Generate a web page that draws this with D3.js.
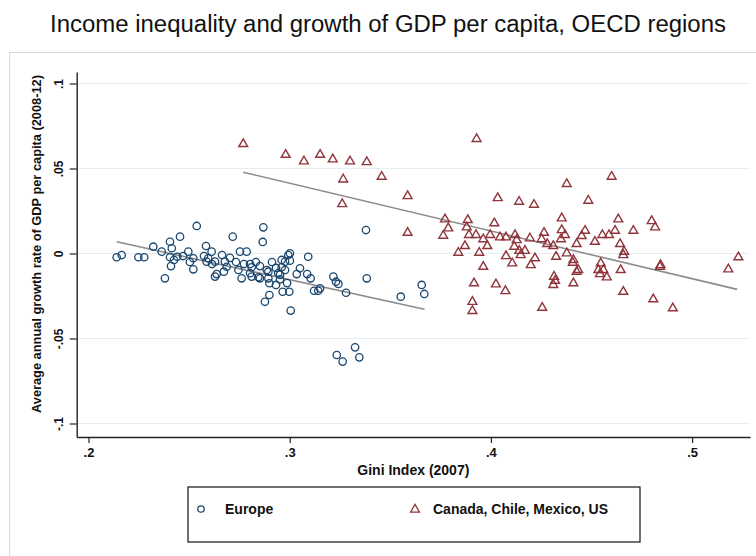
<!DOCTYPE html>
<html>
<head>
<meta charset="utf-8">
<script src="https://cdn.jsdelivr.net/npm/d3@7"></script>
<style>
  html, body { margin: 0; padding: 0; background: #fff; }
  svg { display: block; font-family: "Liberation Sans", Arial, sans-serif; }
</style>
</head>
<body>
<svg id="chart" width="756" height="556"></svg>
<script>
// ---------------- DATA ----------------
const title = "Income inequality and growth of GDP per capita, OECD regions";
const xTitle = "Gini Index (2007)";
const yTitle = "Average annual growth rate of GDP per capita (2008-12)";
const seriesNames = ["Europe", "Canada, Chile, Mexico, US"];

const xTicks = [0.2, 0.3, 0.4, 0.5];
const xTickLabels = [".2", ".3", ".4", ".5"];
const yTicks = [-0.1, -0.05, 0, 0.05, 0.1];
const yTickLabels = ["-.1", "-.05", "0", ".05", ".1"];

// Europe regions: [gini, growth]
const europe = [
  [0.2140,-0.0022],[0.2165,-0.0009],[0.2248,-0.0022],[0.2277,-0.0022],[0.2322,0.0040],
  [0.2380,-0.0146],[0.2364,0.0011],[0.2405,0.0069],[0.2414,0.0031],[0.2455,0.0099],
  [0.2405,-0.0022],[0.2425,-0.0038],[0.2410,-0.0074],[0.2441,-0.0019],[0.2538,0.0162],
  [0.2496,0.0011],[0.2521,-0.0028],[0.2521,-0.0093],[0.2584,0.0044],[0.2612,0.0011],
  [0.2595,-0.0028],[0.2629,-0.0048],[0.2587,-0.0048],[0.2637,-0.0121],[0.2629,-0.0136],
  [0.2678,-0.0048],[0.2687,-0.0078],[0.2673,-0.0107],[0.2717,0.0099],[0.2753,0.0011],
  [0.2786,0.0011],[0.2745,-0.0097],[0.2761,-0.0146],[0.2811,-0.0081],[0.2803,-0.0116],
  [0.2869,0.0154],[0.2866,0.0068],[0.2844,-0.0140],[0.2886,-0.0097],[0.2894,-0.0146],
  [0.2899,-0.0244],[0.2877,-0.0284],[0.2965,-0.0225],[0.2998,-0.0225],[0.3005,-0.0336],
  [0.2952,-0.0126],[0.2960,-0.0081],[0.2993,-0.0009],[0.3001,-0.0042],[0.3035,-0.0121],
  [0.2977,-0.0048],[0.2470,-0.0015],[0.2504,-0.0050],[0.2574,-0.0015],[0.2614,-0.0062],
  [0.2703,-0.0026],[0.2733,-0.0050],[0.2832,-0.0050],[0.2852,-0.0074],[0.2912,-0.0050],
  [0.2932,-0.0085],[0.2773,-0.0062],[0.2664,-0.0009],[0.2960,-0.0038],[0.3001,0.0001],
  [0.2943,-0.0116],[0.2952,-0.0152],[0.3092,-0.0019],[0.3087,-0.0121],[0.3104,-0.0146],
  [0.3121,-0.0219],[0.3142,-0.0219],[0.3151,-0.0205],[0.3217,-0.0136],[0.3230,-0.0166],
  [0.3242,-0.0179],[0.3280,-0.0231],[0.3383,-0.0146],[0.3379,0.0138],[0.3552,-0.0254],
  [0.3656,-0.0185],[0.3669,-0.0238],[0.3234,-0.0597],[0.3263,-0.0636],[0.3325,-0.0552],
  [0.3346,-0.0611],[0.2803,-0.0062],[0.2811,-0.0136],[0.2852,-0.0146],[0.2894,-0.0107],
  [0.2899,-0.0175],[0.2977,-0.0097],[0.3051,-0.0087],[0.2932,-0.0185],[0.2987,-0.0174]
];

// Canada, Chile, Mexico, US regions: [gini, growth]
const americas = [
  [0.2769,0.0644],[0.2980,0.0581],[0.3071,0.0542],[0.3151,0.0581],[0.3214,0.0554],
  [0.3300,0.0542],[0.3383,0.0538],[0.3266,0.0436],[0.3457,0.0452],[0.3261,0.0291],
  [0.3586,0.0338],[0.3586,0.0122],[0.3929,0.0674],[0.4377,0.0409],[0.4034,0.0326],
  [0.4140,0.0305],[0.4214,0.0287],[0.4352,0.0207],[0.3772,0.0201],[0.3788,0.0148],
  [0.3763,0.0105],[0.3885,0.0197],[0.3880,0.0154],[0.3891,0.0109],[0.3926,0.0109],
  [0.4017,0.0178],[0.3996,0.0109],[0.3962,0.0084],[0.4045,0.0095],[0.4075,0.0095],
  [0.4120,0.0109],[0.4128,0.0079],[0.3871,0.0044],[0.3838,0.0005],[0.3982,0.0044],
  [0.3942,0.0005],[0.4116,0.0040],[0.4141,0.0016],[0.4169,0.0016],[0.4075,-0.0015],
  [0.4148,-0.0009],[0.4106,-0.0058],[0.4219,-0.0028],[0.4198,-0.0068],[0.3962,-0.0078],
  [0.3916,-0.0175],[0.4025,-0.0181],[0.4072,-0.0221],[0.3908,-0.0284],[0.3908,-0.0338],
  [0.4255,-0.0319],[0.4194,0.0089],[0.4264,0.0122],[0.4252,0.0084],[0.4280,0.0056],
  [0.4310,0.0044],[0.4352,0.0138],[0.4368,0.0109],[0.4348,0.0084],[0.4324,-0.0019],
  [0.4377,0.0001],[0.4407,-0.0054],[0.4426,0.0056],[0.4410,-0.0175],[0.4314,-0.0136],
  [0.4319,-0.0160],[0.4310,-0.0185],[0.4426,-0.0107],[0.4600,0.0452],[0.4484,0.0311],
  [0.4633,0.0201],[0.4799,0.0191],[0.4816,0.0154],[0.4708,0.0134],[0.4468,0.0134],
  [0.4451,0.0103],[0.4517,0.0069],[0.4554,0.0109],[0.4587,0.0109],[0.4617,0.0134],
  [0.4642,0.0056],[0.4662,0.0011],[0.4658,-0.0009],[0.4843,-0.0068],[0.4840,-0.0078],
  [0.5230,-0.0022],[0.5180,-0.0093],[0.4410,-0.0038],[0.4434,-0.0097],[0.4546,-0.0058],
  [0.4534,-0.0097],[0.4559,-0.0097],[0.4542,-0.0121],[0.4576,-0.0140],[0.4645,-0.0097],
  [0.4658,-0.0225],[0.4807,-0.0269],[0.4904,-0.0322]
];

// Linear fit lines (endpoints): [gini, fitted growth]
const europeFit = [[0.2140, 0.0069], [0.3670, -0.0328]];
const americasFit = [[0.2769, 0.0478], [0.5224, -0.0211]];

// ---------------- LAYOUT ----------------
const svg = d3.select("#chart");
const plot = { left: 76.7, right: 750, top: 72, bottom: 437 };
const xDomain = [0.19414, 0.52877];
const yDomain = [-0.10794, 0.10676];

const x = d3.scaleLinear().domain(xDomain).range([plot.left, plot.right]);
const y = d3.scaleLinear().domain(yDomain).range([plot.bottom, plot.top]);

const colEurope = "#1a476f";
const colAmericas = "#90353b";
const axisColor = "#222";
const fontFam = '"Liberation Sans", Arial, sans-serif';

// outer frame
svg.append("rect")
  .attr("x", 9.5).attr("y", 52.5).attr("width", 800).attr("height", 600)
  .attr("fill", "none").attr("stroke", "#d9d9d9").attr("stroke-width", 1);

// title
svg.append("text")
  .attr("x", 388).attr("y", 32)
  .attr("text-anchor", "middle")
  .attr("font-size", 23).attr("fill", "#111")
  .attr("textLength", 676).attr("lengthAdjust", "spacingAndGlyphs")
  .text(title);

// gridlines
svg.append("g").selectAll("line").data(yTicks).join("line")
  .attr("x1", plot.left).attr("x2", plot.right)
  .attr("y1", d => y(d)).attr("y2", d => y(d))
  .attr("stroke", "#e4eef1").attr("stroke-width", 1.2);

// fit lines
const line = d3.line().x(d => x(d[0])).y(d => y(d[1]));
[europeFit, americasFit].forEach(f => {
  svg.append("path").datum(f).attr("d", line)
    .attr("fill", "none").attr("stroke", "#8c8c8c").attr("stroke-width", 1.6);
});

// points
svg.append("g").selectAll("circle").data(europe).join("circle")
  .attr("cx", d => x(d[0])).attr("cy", d => y(d[1])).attr("r", 3.7)
  .attr("fill", "none").attr("stroke", colEurope).attr("stroke-width", 1.3);

const tri = d3.symbol().type(d3.symbolTriangle).size(34);
svg.append("g").selectAll("path").data(americas).join("path")
  .attr("transform", d => `translate(${x(d[0])},${y(d[1])})`)
  .attr("d", tri)
  .attr("fill", "none").attr("stroke", colAmericas).attr("stroke-width", 1.4);

// axes
const xAxis = d3.axisBottom(x).tickValues(xTicks)
  .tickFormat((d, i) => xTickLabels[i]).tickSize(6).tickSizeOuter(0).tickPadding(4);
const gx = svg.append("g").attr("transform", `translate(0,${plot.bottom})`).call(xAxis);
gx.select(".domain").attr("stroke", axisColor).attr("stroke-width", 1.4);
gx.selectAll(".tick line").attr("stroke", axisColor).attr("stroke-width", 1.2);
gx.selectAll(".tick text")
  .attr("font-family", fontFam).attr("font-size", 13).attr("font-weight", "bold")
  .attr("fill", "#111").attr("y", 20).attr("dy", 0);

const yAxis = d3.axisLeft(y).tickValues(yTicks)
  .tickFormat((d, i) => yTickLabels[i]).tickSize(7).tickSizeOuter(0);
const gy = svg.append("g").attr("transform", `translate(${plot.left},0)`).call(yAxis);
gy.select(".domain").attr("stroke", axisColor).attr("stroke-width", 1.4);
gy.selectAll(".tick line").attr("stroke", axisColor).attr("stroke-width", 1.2);
gy.selectAll(".tick text")
  .attr("font-family", fontFam).attr("font-size", 12).attr("font-weight", "bold")
  .attr("fill", "#111")
  .attr("transform", "rotate(-90)")
  .attr("x", 0).attr("y", -14).attr("dy", 0)
  .attr("text-anchor", "middle");

// axis titles
svg.append("text")
  .attr("x", (plot.left + plot.right) / 2).attr("y", 475)
  .attr("text-anchor", "middle").attr("font-size", 14).attr("font-weight", "bold")
  .attr("fill", "#111")
  .text(xTitle);

svg.append("text")
  .attr("transform", "translate(41,244) rotate(-90)")
  .attr("text-anchor", "middle").attr("font-size", 12.5).attr("font-weight", "bold")
  .attr("fill", "#111")
  .attr("textLength", 338).attr("lengthAdjust", "spacingAndGlyphs")
  .text(yTitle);

// legend
const lg = svg.append("g");
lg.append("rect").attr("x", 188).attr("y", 487).attr("width", 452).attr("height", 55)
  .attr("fill", "#fff").attr("stroke", "#111").attr("stroke-width", 1.2);
lg.append("circle").attr("cx", 201).attr("cy", 509).attr("r", 3.2)
  .attr("fill", "none").attr("stroke", colEurope).attr("stroke-width", 1.3);
lg.append("text").attr("x", 225).attr("y", 514)
  .attr("font-size", 14).attr("font-weight", "bold").attr("fill", "#111")
  .text(seriesNames[0]);
lg.append("path").attr("transform", "translate(415,509.5)").attr("d", tri)
  .attr("fill", "none").attr("stroke", colAmericas).attr("stroke-width", 1.3);
lg.append("text").attr("x", 433).attr("y", 514)
  .attr("font-size", 14).attr("font-weight", "bold").attr("fill", "#111")
  .text(seriesNames[1]);
</script>
</body>
</html>
